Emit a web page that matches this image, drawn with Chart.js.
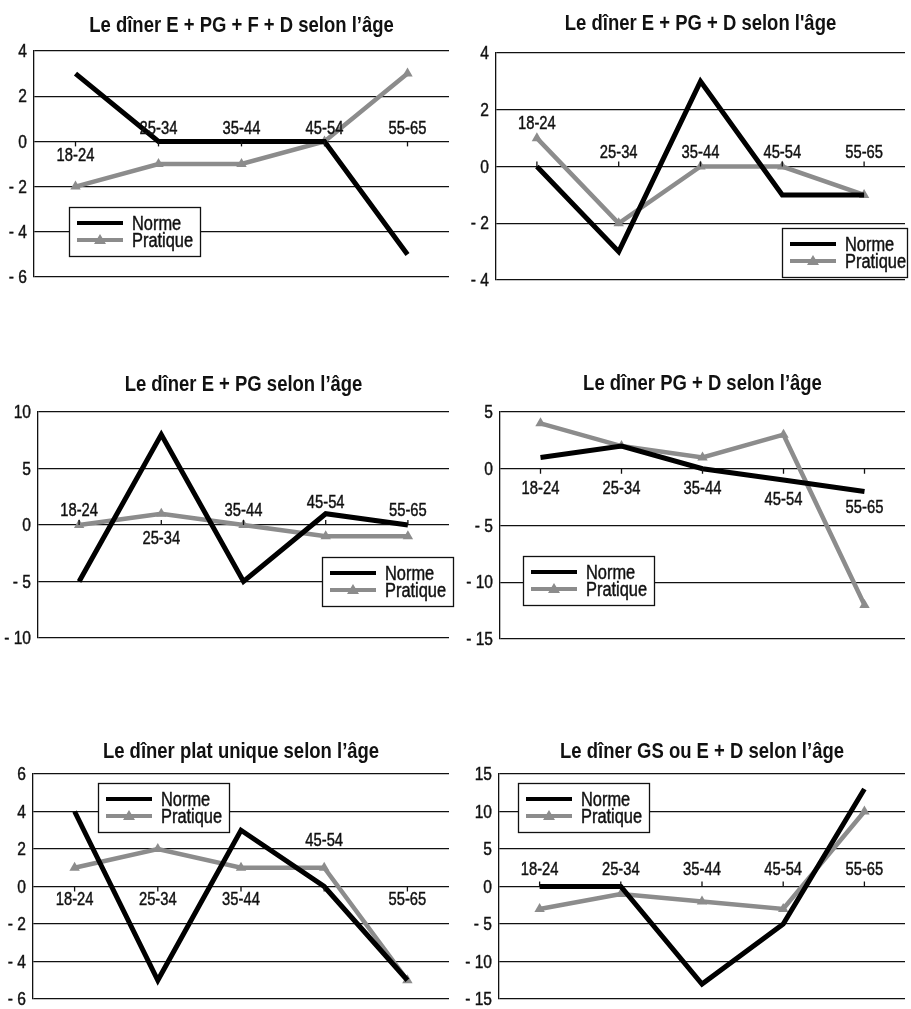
<!DOCTYPE html>
<html>
<head>
<meta charset="utf-8">
<script src="https://cdn.jsdelivr.net/npm/chart.js@4.4.1/dist/chart.umd.min.js"></script>
<style>
  body { margin: 0; background: #fff; }
  #wrap { position: relative; width: 911px; height: 1009px; overflow: hidden; }
  canvas { position: absolute; }
</style>
</head>
<body>
<div id="wrap"></div>
<script>
// age groups shared by all six charts
var ages = ['18-24', '25-34', '35-44', '45-54', '55-65'];
var seriesNames = ['Norme', 'Pratique'];

var titles = [
  'Le dîner E + PG + F + D selon l\u2019âge',
  'Le dîner E + PG + D selon l\'âge',
  'Le dîner E + PG selon l\u2019âge',
  'Le dîner PG + D selon l\u2019âge',
  'Le dîner plat unique selon l\u2019âge',
  'Le dîner GS ou E + D selon l\u2019âge'
];

var norme1 = [3, 0, 0, 0, -5];
var pratique1 = [-2, -1, -1, 0, 3];
var norme2 = [0, -3, 3, -1, -1];
var pratique2 = [1, -2, 0, 0, -1];
var norme3 = [-5, 8, -5, 1, 0];
var pratique3 = [0, 1, 0, -1, -1];
var norme4 = [1, 2, 0, -1, -2];
var pratique4 = [4, 2, 1, 3, -12];
var norme5 = [4, -5, 3, 0, -5];
var pratique5 = [1, 2, 1, 1, -5];
var norme6 = [0, 0, -13, -5, 13];
var pratique6 = [-3, -1, -2, -3, 10];

// y scales: [min, max, step]
var yRanges = [[-6, 4, 2], [-4, 4, 2], [-10, 10, 5], [-15, 5, 5], [-6, 6, 2], [-15, 15, 5]];

var FONT = "'Liberation Sans', Arial, sans-serif";
var NARROW = 0.82;   // no condensed face installed, so squeeze horizontally
var INK = '#111';
var GREY = '#8c8c8c';

// layout of each panel (canvas box, plot area, title y, label offsets, tick direction, legend box)
var panels = [
  { x: 0,   y: 0,   w: 455, h: 300, area: [34, 51, 449, 277], ty: 26, lab: [15, -12, -12, -12, -12], tick: 1,  leg: [69, 207, 131] },
  { x: 455, y: 0,   w: 456, h: 300, area: [41, 53, 456, 280], ty: 24, lab: [-42, -13, -13, -13, -13], tick: -1, leg: [327, 228, 125] },
  { x: 0,   y: 360, w: 455, h: 300, area: [38, 52, 453, 278], ty: 25, lab: [-14, 14, -14, -22, -14], tick: -1, leg: [322, 197, 131] },
  { x: 455, y: 360, w: 456, h: 300, area: [45, 52, 456, 279], ty: 24, lab: [20, 20, 20, 31, 39], tick: 1,  leg: [68, 196, 131] },
  { x: 0,   y: 720, w: 455, h: 289, area: [33, 54, 450, 279], ty: 32, lab: [14, 14, 14, -45, 14], tick: 1,  leg: [98, 63, 131] },
  { x: 455, y: 720, w: 456, h: 289, area: [44, 54, 456, 279], ty: 32, lab: [-16, -16, -16, -16, -16], tick: -1, leg: [63, 63, 131] }
];

var normes = [norme1, norme2, norme3, norme4, norme5, norme6];
var pratiques = [pratique1, pratique2, pratique3, pratique4, pratique5, pratique6];

function narrowText(ctx, txt, x, y, align, sx, heavy) {
  ctx.save();
  ctx.translate(x, y);
  ctx.scale(sx || NARROW, 1);
  ctx.textAlign = align;
  ctx.textBaseline = 'middle';
  ctx.fillText(txt, 0, 0);
  if (heavy) {
    ctx.strokeStyle = ctx.fillStyle;
    ctx.lineWidth = 0.45;
    ctx.strokeText(txt, 0, 0);
  }
  ctx.restore();
}

function fmt(v) { return v < 0 ? '- ' + Math.abs(v) : String(v); }

var decor = {
  id: 'decor',
  afterDraw: function (chart) {
    var o = chart.options.plugins.decor;
    var ctx = chart.ctx;
    var a = chart.chartArea;
    var xs = chart.scales.x;
    var ys = chart.scales.y;
    var y0 = ys.getPixelForValue(0);
    ctx.save();
    ctx.fillStyle = INK;
    // title
    ctx.font = 'bold 22px ' + FONT;
    narrowText(ctx, o.title, (a.left + a.right) / 2, o.ty, 'center', 0.84);
    // y tick labels
    ctx.font = '19px ' + FONT;
    ys.ticks.forEach(function (t) {
      narrowText(ctx, fmt(t.value), a.left - 7, ys.getPixelForValue(t.value) + 1, 'right', NARROW, true);
    });
    // category ticks and labels along the zero line
    ctx.font = '18px ' + FONT;
    ctx.strokeStyle = INK;
    ctx.lineWidth = 1.3;
    ages.forEach(function (lab, i) {
      var px = xs.getPixelForValue(i);
      ctx.beginPath();
      ctx.moveTo(px, y0);
      ctx.lineTo(px, y0 + 5 * o.tick);
      ctx.stroke();
      narrowText(ctx, lab, px, y0 + o.lab[i], 'center', NARROW, true);
    });
    // legend box
    var lx = o.leg[0], ly = o.leg[1], lw = o.leg[2];
    ctx.fillStyle = '#fff';
    ctx.fillRect(lx, ly, lw, 49);
    ctx.lineWidth = 1.3;
    ctx.strokeRect(lx + 0.5, ly + 0.5, lw, 49);
    ctx.font = '20px ' + FONT;
    chart.data.datasets.forEach(function (ds, i) {
      var yy = ly + 16 + i * 17;
      ctx.strokeStyle = ds.borderColor;
      ctx.lineWidth = 4;
      ctx.beginPath();
      ctx.moveTo(lx + 8, yy);
      ctx.lineTo(lx + 54, yy);
      ctx.stroke();
      if (ds.pointStyle === 'triangle') {
        ctx.fillStyle = ds.borderColor;
        ctx.beginPath();
        ctx.moveTo(lx + 31, yy - 6);
        ctx.lineTo(lx + 37, yy + 4);
        ctx.lineTo(lx + 25, yy + 4);
        ctx.closePath();
        ctx.fill();
      }
      ctx.fillStyle = INK;
      narrowText(ctx, ds.label, lx + 63, yy + 1, 'left', NARROW, true);
    });
    ctx.restore();
  }
};

var wrap = document.getElementById('wrap');

panels.forEach(function (p, k) {
  var cv = document.createElement('canvas');
  cv.width = p.w;
  cv.height = p.h;
  cv.style.left = p.x + 'px';
  cv.style.top = p.y + 'px';
  cv.style.width = p.w + 'px';
  cv.style.height = p.h + 'px';
  wrap.appendChild(cv);
  var r = yRanges[k];

  new Chart(cv.getContext('2d'), {
    type: 'line',
    data: {
      labels: ages,
      datasets: [{
        label: seriesNames[0],
        data: normes[k],
        borderColor: '#000',
        backgroundColor: '#000',
        borderWidth: 5,
        pointRadius: 0,
        tension: 0
      }, {
        label: seriesNames[1],
        data: pratiques[k],
        borderColor: GREY,
        backgroundColor: GREY,
        borderWidth: 4.5,
        pointStyle: 'triangle',
        pointRadius: 6,
        pointBorderWidth: 0,
        tension: 0
      }]
    },
    options: {
      responsive: false,
      animation: false,
      layout: {
        padding: { left: 0, top: p.area[1], right: p.w - p.area[2], bottom: p.h - p.area[3] }
      },
      scales: {
        x: { type: 'category', display: false, offset: true },
        y: {
          min: r[0],
          max: r[1],
          afterFit: function (s) { s.width = p.area[0]; },
          ticks: { stepSize: r[2], display: false },
          grid: { color: INK, lineWidth: 1.3, drawTicks: false },
          border: { color: INK, width: 1.3 }
        }
      },
      plugins: {
        legend: { display: false },
        tooltip: { enabled: false },
        decor: { title: titles[k], ty: p.ty, lab: p.lab, tick: p.tick, leg: p.leg }
      }
    },
    plugins: [decor]
  });
});
</script>
</body>
</html>
